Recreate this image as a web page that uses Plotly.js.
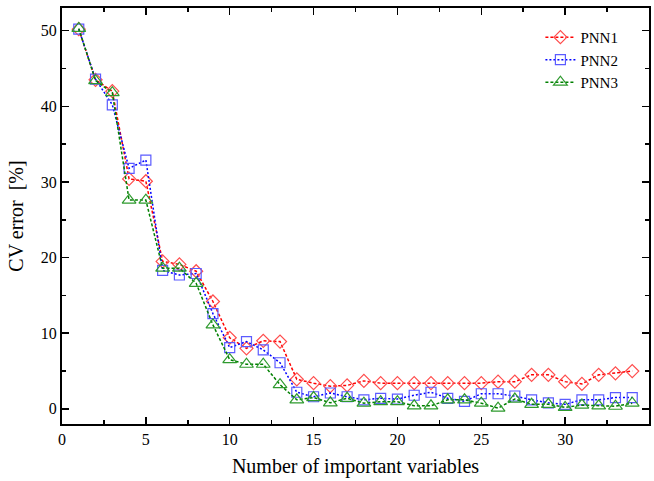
<!DOCTYPE html>
<html>
<head>
<meta charset="utf-8">
<script src="https://cdn.plot.ly/plotly-3.0.1.min.js"></script>
<style>html,body{margin:0;padding:0;background:#fff;}#chart{width:654px;height:481px;}</style>
</head>
<body>
<div id="chart"></div>
<script>
const nVars = [1,2,3,4,5,6,7,8,9,10,11,12,13,14,15,16,17,18,19,20,21,22,23,24,25,26,27,28,29,30,31,32,33,34];
const pnn1 = [50.2,43.5,42.0,30.4,30.1,19.5,19.1,18.2,14.2,9.4,8.0,9.0,8.9,3.9,3.4,3.0,3.1,3.7,3.4,3.4,3.4,3.4,3.4,3.4,3.4,3.6,3.6,4.5,4.5,3.6,3.3,4.5,4.7,5.0];
const pnn2 = [50.2,43.6,40.2,31.8,32.9,18.3,17.7,17.9,12.6,8.1,8.9,7.8,6.1,2.2,1.6,2.1,1.6,1.2,1.4,1.3,1.8,2.2,1.4,1.0,2.0,2.0,1.7,1.2,0.8,0.6,1.2,1.2,1.5,1.5];
const pnn3 = [50.3,43.4,41.8,27.6,27.6,18.6,18.6,16.6,11.1,6.5,5.9,5.9,3.2,1.2,1.5,0.8,1.4,0.75,0.95,0.95,0.4,0.4,1.2,1.2,0.75,0.1,1.3,0.6,0.6,0.2,0.5,0.4,0.35,0.75];
const seriesNames = ['PNN1','PNN2','PNN3'];
const xTitle = 'Number of important variables';
const yTitle = 'CV error  [%]';

const font = 'Liberation Serif, Times New Roman, serif';
function tr(name, y, lineColor, markColor, symbol, size, dash) {
  return {
    x: nVars, y: y, name: name, type: 'scatter', mode: 'lines+markers',
    line: {color: lineColor, width: 1.5, dash: dash},
    marker: {symbol: symbol, size: size, color: markColor, line: {color: markColor, width: 1.2}}
  };
}
const data = [
  tr(seriesNames[0], pnn1, '#ff0000', '#ff4d4d', 'diamond-open', 10, '3px,2px'),
  tr(seriesNames[1], pnn2, '#0000ff', '#5b5bff', 'square-open', 10, '2px,2px'),
  tr(seriesNames[2], pnn3, '#008000', '#2e9a2e', 'triangle-up-open', 12, '3px,2px')
];
const axisCommon = {
  showgrid: false, zeroline: false, showline: true, linecolor: '#000', linewidth: 2,
  mirror: 'allticks', ticks: 'inside', ticklen: 7, tickwidth: 1.5, tickcolor: '#000',
  tickfont: {family: font, size: 16, color: '#000'}
};
const layout = {
  width: 654, height: 481,
  margin: {l: 62, r: 5, t: 8, b: 57},
  paper_bgcolor: '#fff', plot_bgcolor: '#fff',
  showlegend: true,
  legend: {x: 0.815, y: 0.969, xanchor: 'left', yanchor: 'top', bgcolor: 'rgba(0,0,0,0)',
           font: {family: font, size: 15, color: '#000'}, tracegroupgap: 0, itemwidth: 30},
  xaxis: Object.assign({}, axisCommon, {
    range: [0, 35], dtick: 5, tick0: 0,
    minor: {dtick: 2.5, ticks: 'inside', ticklen: 4, tickwidth: 1.5, tickcolor: '#000'},
    title: {text: xTitle, font: {family: font, size: 20, color: '#000'}, standoff: 12}
  }),
  yaxis: Object.assign({}, axisCommon, {
    range: [-2, 53], dtick: 10, tick0: 0,
    minor: {dtick: 5, ticks: 'inside', ticklen: 4, tickwidth: 1.5, tickcolor: '#000'},
    title: {text: yTitle, font: {family: font, size: 20, color: '#000'}, standoff: 12}
  })
};
Plotly.newPlot('chart', data, layout, {displayModeBar: false, staticPlot: true});
</script>
</body>
</html>
